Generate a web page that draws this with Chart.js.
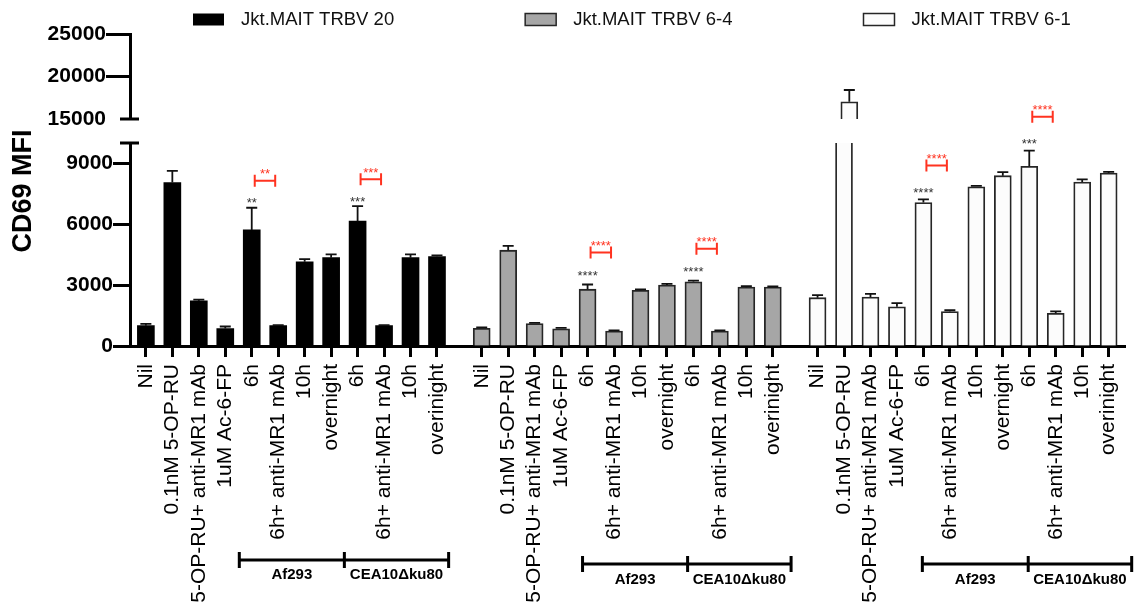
<!DOCTYPE html>
<html>
<head>
<meta charset="utf-8">
<script src="https://cdn.jsdelivr.net/npm/chart.js@4.4.1/dist/chart.umd.min.js"></script>
<style>
  body { margin: 0; background: #fff; }
  #wrap { position: relative; width: 1141px; height: 608px; }
  #mainChart { position: absolute; left: 0; top: 0; }
  #upperChart { position: absolute; left: 0; top: 0; }
</style>
</head>
<body>
<div id="wrap">
  <canvas id="mainChart" width="1141" height="608"></canvas>
  <canvas id="upperChart" width="1141" height="140"></canvas>
</div>
<script>
/* ---------- data ---------- */
const tickLabels = ["Nil", "0.1nM 5-OP-RU", "5-OP-RU+ anti-MR1 mAb", "1uM Ac-6-FP",
    "6h", "6h+ anti-MR1 mAb", "10h", "overnight",
    "6h", "6h+ anti-MR1 mAb", "10h", "overinight"];
const seriesNames = ["Jkt.MAIT TRBV 20", "Jkt.MAIT TRBV 6-4", "Jkt.MAIT TRBV 6-1"];

const trbv20    = [1000, 8050, 2220, 860, 5720, 1000, 4150, 4350, 6150, 1000, 4350, 4410];
const trbv20Err = [90, 580, 60, 100, 1090, 30, 130, 160, 740, 30, 160, 50];
const trbv64    = [870, 4720, 1110, 850, 2800, 740, 2740, 3000, 3160, 740, 2900, 2900];
const trbv64Err = [50, 210, 30, 45, 230, 30, 50, 60, 60, 30, 50, 30];
const trbv61    = [2380, 17030, 2410, 1930, 7070, 1700, 7840, 8390, 8850, 1610, 8080, 8520];
const trbv61Err = [130, 1380, 160, 180, 150, 60, 50, 180, 770, 100, 130, 60];

// "6h" bars that carry significance marks (index in group), compared with the bar after
const sigBars = [4, 8];
const sigVsNil = [["**", "***"], ["****", "****"], ["****", "***"]];
const sigVsMab = [["**", "***"], ["****", "****"], ["****", "****"]];
const groupNames = ["Af293", "CEA10\u0394ku80"];

/* ---------- layout / style ---------- */
const GROUP_STRIDE = 12.69;
const X_MIN = -0.6, X_MAX = 37.02;
const FONT = 'Arial, "Liberation Sans", Helvetica, sans-serif';
const fills = ["#000000", "#a6a6a6", "#fcfcfc"];
const borders = ["#000000", "#262626", "#262626"];
const RED = "#ff3320";
const starGap = [8, 12, 10];
const bracketGap = [27, 32, 34];
const spanStops = [[3.53, 7.5, 11.44], [3.81, 7.78, 11.69], [3.96, 7.96, 11.87]];
const spanY = [560, 564, 564];
const spanLabelY = [575, 580, 580];

Chart.defaults.font.family = FONT;
Chart.defaults.color = "#000";

const seriesValues = [trbv20, trbv64, trbv61];
const seriesErrs = [trbv20Err, trbv64Err, trbv61Err];
const pos = (g, i) => g * GROUP_STRIDE + i;
const tickPositions = [];
seriesValues.forEach((vals, g) => vals.forEach((v, i) => tickPositions.push(pos(g, i))));

function makeDatasets() {
    return seriesValues.map((vals, g) => ({
        label: seriesNames[g],
        data: vals.map((v, i) => ({ x: pos(g, i), y: v })),
        errors: seriesErrs[g],
        backgroundColor: fills[g],
        borderColor: borders[g],
        borderWidth: g === 0 ? 0 : 1.8,
        barThickness: 17,
        grouped: false,
        clip: 0
    }));
}

/* error bars, clipped to the plot area */
const errorBars = {
    id: "errorBars",
    afterDatasetsDraw(chart) {
        const { ctx, chartArea: a } = chart;
        const yScale = chart.scales.y;
        ctx.save();
        ctx.beginPath();
        ctx.rect(a.left, a.top - 1, a.right - a.left, a.bottom - a.top + 1);
        ctx.clip();
        ctx.strokeStyle = "#111";
        ctx.lineWidth = 1.8;
        chart.data.datasets.forEach((ds, d) => {
            chart.getDatasetMeta(d).data.forEach((bar, i) => {
                const top = yScale.getPixelForValue(ds.data[i].y + ds.errors[i]);
                ctx.beginPath();
                ctx.moveTo(bar.x, bar.y);
                ctx.lineTo(bar.x, top);
                ctx.moveTo(bar.x - 5.5, top);
                ctx.lineTo(bar.x + 5.5, top);
                ctx.stroke();
            });
        });
        ctx.restore();
    }
};

function breakCap(ctx, x, y) {
    ctx.save();
    ctx.strokeStyle = "#000";
    ctx.lineWidth = 3;
    ctx.beginPath();
    ctx.moveTo(x - 10, y);
    ctx.lineTo(x + 9, y);
    ctx.stroke();
    ctx.restore();
}

/* legend, axis title, significance marks, group brackets */
const annotations = {
    id: "annotations",
    afterDraw(chart) {
        const { ctx, chartArea: a } = chart;
        const x = chart.scales.x, y = chart.scales.y;

        // legend
        ctx.save();
        ctx.font = "18.5px " + FONT;
        ctx.textBaseline = "middle";
        let lx = 193;
        seriesNames.forEach((name, g) => {
            ctx.fillStyle = fills[g];
            ctx.fillRect(lx, 13.5, 31, 12);
            if (g > 0) {
                ctx.strokeStyle = borders[g];
                ctx.lineWidth = 1.5;
                ctx.strokeRect(lx, 13.5, 31, 12);
            }
            ctx.fillStyle = "#111";
            ctx.fillText(name, lx + 48, 20);
            lx += 48 + ctx.measureText(name).width + 131;
        });
        ctx.restore();

        // y axis title
        ctx.save();
        ctx.translate(23.5, 191);
        ctx.rotate(-Math.PI / 2);
        ctx.font = "bold 27px " + FONT;
        ctx.textAlign = "center";
        ctx.textBaseline = "middle";
        ctx.fillStyle = "#000";
        ctx.fillText("CD69 MFI", 0, 0);
        ctx.restore();

        breakCap(ctx, a.left, a.top);

        // significance
        ctx.save();
        ctx.font = "13px " + FONT;
        ctx.textAlign = "center";
        ctx.textBaseline = "alphabetic";
        seriesValues.forEach((vals, g) => {
            sigBars.forEach((idx, k) => {
                const xi = x.getPixelForValue(pos(g, idx));
                const xj = x.getPixelForValue(pos(g, idx + 1));
                const top = y.getPixelForValue(vals[idx] + seriesErrs[g][idx]);
                ctx.fillStyle = "#333";
                ctx.fillText(sigVsNil[g][k], xi, top - starGap[g] + 7.5);
                const by = top - bracketGap[g];
                ctx.strokeStyle = RED;
                ctx.lineWidth = 2;
                ctx.beginPath();
                ctx.moveTo(xi + 3, by - 6); ctx.lineTo(xi + 3, by + 6);
                ctx.moveTo(xj - 3, by - 6); ctx.lineTo(xj - 3, by + 6);
                ctx.moveTo(xi + 3, by); ctx.lineTo(xj - 3, by);
                ctx.stroke();
                ctx.fillStyle = RED;
                ctx.fillText(sigVsMab[g][k], (xi + xj) / 2, by - 10 + 7.5);
            });
        });
        ctx.restore();

        // group brackets under the labels
        ctx.save();
        ctx.strokeStyle = "#000";
        ctx.fillStyle = "#000";
        ctx.lineWidth = 3;
        ctx.font = "bold 15px " + FONT;
        ctx.textAlign = "center";
        ctx.textBaseline = "middle";
        spanStops.forEach((stops, g) => {
            const px = stops.map(s => x.getPixelForValue(pos(g, s)));
            const yy = spanY[g];
            ctx.beginPath();
            ctx.moveTo(px[0], yy); ctx.lineTo(px[2], yy);
            px.forEach(p => { ctx.moveTo(p, yy - 8); ctx.lineTo(p, yy + 8); });
            ctx.stroke();
            ctx.fillText(groupNames[0], (px[0] + px[1]) / 2, spanLabelY[g]);
            ctx.fillText(groupNames[1], (px[1] + px[2]) / 2, spanLabelY[g]);
        });
        ctx.restore();
    }
};

const upperCap = {
    id: "upperCap",
    afterDraw(chart) {
        breakCap(chart.ctx, chart.chartArea.left, chart.chartArea.bottom);
    }
};

const xScale = (display) => ({
    type: "linear",
    display: display,
    min: X_MIN,
    max: X_MAX,
    bounds: "data",
    offset: false,
    afterBuildTicks: (scale) => { scale.ticks = tickPositions.map(v => ({ value: v })); },
    afterFit: (scale) => { if (display) scale.height = 262; },
    ticks: {
        autoSkip: false,
        minRotation: 90,
        maxRotation: 90,
        padding: 7,
        font: { size: 21 },
        color: "#000",
        callback: (v, i) => tickLabels[i % 12]
    },
    grid: { drawOnChartArea: false, offset: false, tickLength: 11, tickWidth: 3, tickColor: "#000", color: "#000" },
    border: { display: true, width: 3, color: "#000" }
});

/* lower segment 0 - 10000 */
new Chart(document.getElementById("mainChart"), {
    type: "bar",
    data: { datasets: makeDatasets() },
    options: {
        responsive: false,
        animation: false,
        devicePixelRatio: 1,
        layout: { padding: { top: 143, right: 8, left: 0, bottom: 0 } },
        plugins: { legend: { display: false }, tooltip: { enabled: false } },
        scales: {
            x: xScale(true),
            y: {
                min: 0,
                max: 10000,
                afterBuildTicks: (scale) => { scale.ticks = [0, 3000, 6000, 9000].map(v => ({ value: v })); },
                afterFit: (scale) => { scale.width = 130; },
                ticks: { padding: 0, font: { size: 21, weight: "bold" }, color: "#000", callback: v => String(v) },
                grid: { drawOnChartArea: false, tickLength: 17, tickWidth: 3, tickColor: "#000" },
                border: { display: true, width: 3, color: "#000" }
            }
        }
    },
    plugins: [errorBars, annotations]
});

/* upper segment 15000 - 25000 */
new Chart(document.getElementById("upperChart"), {
    type: "bar",
    data: { datasets: makeDatasets() },
    options: {
        responsive: false,
        animation: false,
        devicePixelRatio: 1,
        layout: { padding: { top: 34, right: 8, left: 0, bottom: 21 } },
        plugins: { legend: { display: false }, tooltip: { enabled: false } },
        scales: {
            x: xScale(false),
            y: {
                min: 15000,
                max: 25000,
                afterBuildTicks: (scale) => { scale.ticks = [15000, 20000, 25000].map(v => ({ value: v })); },
                afterFit: (scale) => { scale.width = 130; },
                ticks: { padding: 0, font: { size: 21, weight: "bold" }, color: "#000", callback: v => String(v) },
                grid: {
                    drawOnChartArea: false, tickLength: 24, tickWidth: 3,
                    tickColor: (c) => (c.tick && c.tick.value === 15000 ? "rgba(0,0,0,0)" : "#000")
                },
                border: { display: true, width: 3, color: "#000" }
            }
        }
    },
    plugins: [errorBars, upperCap]
});
</script>
</body>
</html>
